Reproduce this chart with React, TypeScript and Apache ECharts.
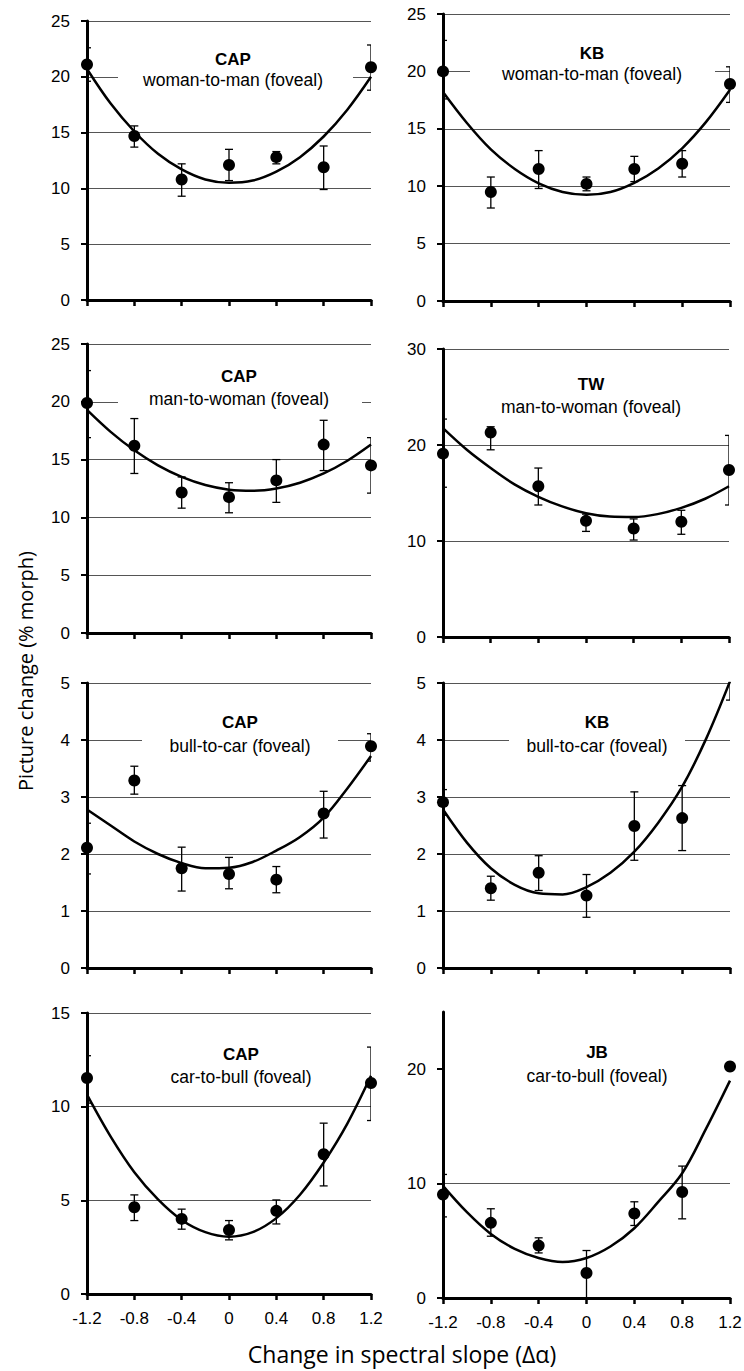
import React, { useEffect, useRef } from "react";
import * as echarts from "echarts";

// x positions of the measured points and of the fitted curve samples
const X_POINTS = [-1.2, -0.8, -0.4, 0, 0.4, 0.8, 1.2];
const FIT_X = [-1.2, -1.0, -0.8, -0.6, -0.4, -0.2, 0, 0.2, 0.4, 0.6, 0.8, 1.0, 1.2];

// CAP woman-to-man
const capW2mMean = [21.1, 14.7, 10.8, 12.1, 12.8, 11.9, 20.85];
const capW2mLow = [19.6, 13.7, 9.3, 10.7, 12.2, 9.9, 18.8];
const capW2mHigh = [22.6, 15.6, 12.2, 13.5, 13.3, 13.8, 22.85];
const capW2mFit = [20.7, 17.6, 15.1, 13.1, 11.7, 10.8, 10.5, 10.7, 11.5, 12.8, 14.65, 17.05, 20.0];

// KB woman-to-man
const kbW2mMean = [20.0, 9.5, 11.5, 10.2, 11.5, 11.95, 18.9];
const kbW2mLow = [17.6, 8.1, 9.8, 9.6, 10.4, 10.8, 17.3];
const kbW2mHigh = [22.7, 10.8, 13.1, 10.8, 12.6, 13.1, 20.4];
const kbW2mFit = [18.2, 15.5, 13.2, 11.5, 10.25, 9.5, 9.25, 9.5, 10.3, 11.55, 13.3, 15.6, 18.4];

// CAP man-to-woman
const capM2wMean = [19.9, 16.2, 12.15, 11.75, 13.2, 16.3, 14.5];
const capM2wLow = [16.9, 13.8, 10.8, 10.4, 11.3, 14.05, 12.1];
const capM2wHigh = [22.7, 18.55, 13.5, 13.0, 15.0, 18.4, 16.9];
const capM2wFit = [19.3, 17.4, 15.8, 14.5, 13.5, 12.8, 12.4, 12.3, 12.5, 13.0, 13.8, 14.9, 16.3];

// TW man-to-woman
const twM2wMean = [19.1, 21.3, 15.7, 12.1, 11.3, 12.0, 17.4];
const twM2wLow = [15.6, 19.5, 13.75, 11.0, 10.1, 10.7, 13.75];
const twM2wHigh = [22.7, 21.9, 17.6, 12.8, 12.3, 13.2, 21.0];
const twM2wFit = [21.75, 19.5, 17.6, 15.9, 14.6, 13.6, 12.9, 12.55, 12.5, 12.8, 13.45, 14.4, 15.7];

// CAP bull-to-car
const capB2cMean = [2.11, 3.29, 1.75, 1.65, 1.55, 2.71, 3.89];
const capB2cLow = [1.65, 3.05, 1.35, 1.39, 1.32, 2.28, 3.63];
const capB2cHigh = [2.54, 3.54, 2.12, 1.94, 1.78, 3.1, 4.11];
const capB2cFit = [2.78, 2.5, 2.22, 2.0, 1.84, 1.75, 1.76, 1.86, 2.06, 2.3, 2.64, 3.15, 3.72];

// KB bull-to-car
const kbB2cMean = [2.91, 1.4, 1.67, 1.27, 2.49, 2.63, 5.4];
const kbB2cLow = [2.68, 1.19, 1.36, 0.89, 1.89, 2.06, 4.7];
const kbB2cHigh = [3.13, 1.61, 1.97, 1.64, 3.09, 3.2, 6.1];
const kbB2cFit = [2.78, 2.2, 1.75, 1.46, 1.31, 1.29, 1.42, 1.67, 2.04, 2.55, 3.18, 4.02, 5.03];

// CAP car-to-bull
const capC2bMean = [11.53, 4.63, 4.01, 3.42, 4.44, 7.46, 11.26];
const capC2bLow = [10.19, 3.92, 3.46, 2.89, 3.74, 5.77, 9.26];
const capC2bHigh = [12.72, 5.29, 4.53, 3.92, 5.02, 9.12, 13.18];
const capC2bFit = [10.64, 8.4, 6.5, 5.05, 3.95, 3.3, 3.06, 3.3, 4.05, 5.3, 7.02, 9.1, 11.65];

// JB car-to-bull
const jbC2bMean = [9.05, 6.57, 4.58, 2.19, 7.39, 9.26, 20.23];
const jbC2bLow = [7.09, 5.4, 3.94, 0, 6.34, 6.92, 20.0];
const jbC2bHigh = [10.8, 7.8, 5.26, 4.15, 8.41, 11.53, 20.45];
const jbC2bFit = [9.8, 7.5, 5.6, 4.3, 3.5, 3.15, 3.5, 4.5, 6.1, 8.4, 10.9, 14.8, 19.0];

const SUBJECTS = ["CAP", "KB", "CAP", "TW", "CAP", "KB", "CAP", "JB"];
const CONDITIONS = [
  "woman-to-man (foveal)",
  "woman-to-man (foveal)",
  "man-to-woman (foveal)",
  "man-to-woman (foveal)",
  "bull-to-car (foveal)",
  "bull-to-car (foveal)",
  "car-to-bull (foveal)",
  "car-to-bull (foveal)",
];
const Y_MAX = [25, 25, 25, 30, 5, 5, 15, 25];
const Y_STEP = [5, 5, 5, 10, 1, 1, 5, 10];
const JB_Y_LABELS = [0, 10, 20];

const X_NAME = "Change in spectral slope (\u0394\u03b1)";
const Y_NAME = "Picture change (% morph)";

const MEANS = [capW2mMean, kbW2mMean, capM2wMean, twM2wMean, capB2cMean, kbB2cMean, capC2bMean, jbC2bMean];
const LOWS = [capW2mLow, kbW2mLow, capM2wLow, twM2wLow, capB2cLow, kbB2cLow, capC2bLow, jbC2bLow];
const HIGHS = [capW2mHigh, kbW2mHigh, capM2wHigh, twM2wHigh, capB2cHigh, kbB2cHigh, capC2bHigh, jbC2bHigh];
const FITS = [capW2mFit, kbW2mFit, capM2wFit, twM2wFit, capB2cFit, kbB2cFit, capC2bFit, jbC2bFit];

// layout (pixels)
const LAYOUT = [
  { left: 87, top: 21, width: 284, height: 279, tx: 233, ty: 59, sy: 80, gap: [118, 353] },
  { left: 443, top: 14, width: 287, height: 287, tx: 592, ty: 53, sy: 74, gap: [470, 715] },
  { left: 87, top: 344, width: 284, height: 289, tx: 239, ty: 376, sy: 399, gap: [118, 362] },
  { left: 443, top: 349, width: 286, height: 288, tx: 591, ty: 384, sy: 407, gap: [500, 690] },
  { left: 87, top: 683, width: 284, height: 285, tx: 240, ty: 722, sy: 746, gap: [142, 338] },
  { left: 443, top: 683, width: 287, height: 285, tx: 597, ty: 722, sy: 746, gap: [509, 685] },
  { left: 87, top: 1013, width: 284, height: 281, tx: 241, ty: 1054, sy: 1077, gap: [150, 330] },
  { left: 443, top: 1012, width: 287, height: 286, tx: 597, ty: 1052, sy: 1076, gap: [499, 695] },
];

const FONT = "'Liberation Sans', Arial, sans-serif";
const NAME_FONT = "'Open Sans', 'Noto Sans', sans-serif";

function buildOption() {
  const grid: any[] = [];
  const xAxis: any[] = [];
  const yAxis: any[] = [];
  const series: any[] = [];
  const graphic: any[] = [];

  LAYOUT.forEach((L, i) => {
    grid.push({
      left: L.left,
      top: L.top,
      width: L.width,
      height: L.height,
      containLabel: false,
      outerBoundsMode: "none",
    });
    const bottomRow = i >= 6;
    xAxis.push({
      type: "value",
      gridIndex: i,
      min: -1.2,
      max: 1.2,
      interval: 0.4,
      axisLine: { show: true, onZero: false, lineStyle: { color: "#000", width: 3 } },
      axisTick: { show: true, length: 6, lineStyle: { color: "#000", width: 2.5 } },
      axisLabel: {
        show: bottomRow,
        fontSize: 17,
        color: "#000",
        fontFamily: FONT,
        margin: 16,
        showMinLabel: true,
        showMaxLabel: true,
      },
      splitLine: { show: false },
    });
    const isJB = i === 7;
    yAxis.push({
      type: "value",
      gridIndex: i,
      min: 0,
      max: Y_MAX[i],
      interval: Y_STEP[i],
      axisLine: { show: true, onZero: false, lineStyle: { color: "#000", width: 3 } },
      axisTick: isJB
        ? { show: true, length: 6, lineStyle: { color: "#000", width: 2 }, customValues: JB_Y_LABELS }
        : { show: true, length: 6, lineStyle: { color: "#000", width: 2 } },
      axisLabel: isJB
        ? { fontSize: 17, color: "#000", fontFamily: FONT, margin: 17, customValues: JB_Y_LABELS }
        : { fontSize: 17, color: "#000", fontFamily: FONT, margin: 17 },
      splitLine: {
        show: true,
        showMinLine: false,
        showMaxLine: !isJB,
        lineStyle: { color: "#555", width: 1 },
      },
    });

    series.push({
      type: "line",
      xAxisIndex: i,
      yAxisIndex: i,
      data: FIT_X.map((x, k) => [x, FITS[i][k]]),
      smooth: 0.35,
      showSymbol: false,
      symbol: "none",
      lineStyle: { color: "#000", width: 2.5 },
      z: 3,
      silent: true,
    });
    series.push({
      type: "custom",
      xAxisIndex: i,
      yAxisIndex: i,
      clip: true,
      z: 4,
      silent: true,
      data: X_POINTS.map((x, k) => [x, LOWS[i][k], HIGHS[i][k]]),
      encode: { x: 0, y: [1, 2] },
      renderItem: (params: any, api: any) => {
        const x = api.value(0);
        const pLo = api.coord([x, api.value(1)]);
        const pHi = api.coord([x, api.value(2)]);
        const cap = 4;
        const st = { stroke: "#000", lineWidth: 1.3 };
        return {
          type: "group",
          children: [
            { type: "line", shape: { x1: pLo[0], y1: pLo[1], x2: pHi[0], y2: pHi[1] }, style: st },
            { type: "line", shape: { x1: pLo[0] - cap, y1: pLo[1], x2: pLo[0] + cap, y2: pLo[1] }, style: st },
            { type: "line", shape: { x1: pHi[0] - cap, y1: pHi[1], x2: pHi[0] + cap, y2: pHi[1] }, style: st },
          ],
        };
      },
    });
    series.push({
      type: "scatter",
      xAxisIndex: i,
      yAxisIndex: i,
      data: X_POINTS.map((x, k) => [x, MEANS[i][k]]),
      symbol: "circle",
      symbolSize: 12,
      itemStyle: { color: "#000", opacity: 1 },
      clip: true,
      z: 5,
      silent: true,
    });

    graphic.push({
      type: "rect",
      shape: { x: L.gap[0], y: L.ty - 10, width: L.gap[1] - L.gap[0], height: L.sy - L.ty + 21 },
      style: { fill: "#fff" },
      z: 20,
      silent: true,
    });
    graphic.push({
      type: "text",
      x: L.tx,
      y: L.ty,
      z: 21,
      style: {
        text: SUBJECTS[i],
        fontSize: 17,
        fontWeight: "bold",
        fontFamily: FONT,
        fill: "#000",
        align: "center",
        verticalAlign: "middle",
        textAlign: "center",
        textVerticalAlign: "middle",
      },
    });
    graphic.push({
      type: "text",
      x: L.tx,
      y: L.sy,
      z: 21,
      style: {
        text: CONDITIONS[i],
        fontSize: 17.5,
        fontFamily: FONT,
        fill: "#000",
        align: "center",
        verticalAlign: "middle",
        textAlign: "center",
        textVerticalAlign: "middle",
      },
    });
  });

  graphic.push({
    type: "text",
    x: 402,
    y: 1354,
    z: 21,
    style: {
      text: X_NAME,
      fontSize: 23,
      fontFamily: NAME_FONT,
      fill: "#000",
      align: "center",
      verticalAlign: "middle",
      textAlign: "center",
      textVerticalAlign: "middle",
    },
  });
  graphic.push({
    type: "text",
    x: 25,
    y: 671,
    rotation: Math.PI / 2,
    z: 21,
    style: {
      text: Y_NAME,
      fontSize: 20,
      fontFamily: NAME_FONT,
      fill: "#000",
      align: "center",
      verticalAlign: "middle",
      textAlign: "center",
      textVerticalAlign: "middle",
    },
  });

  return {
    animation: false,
    backgroundColor: "#fff",
    grid,
    xAxis,
    yAxis,
    series,
    graphic: { elements: graphic },
  };
}

export default function App() {
  const ref = useRef<HTMLDivElement>(null);
  useEffect(() => {
    if (!ref.current) return;
    const chart = echarts.init(ref.current, null, { renderer: "svg" });
    chart.setOption(buildOption() as any);
    return () => chart.dispose();
  }, []);
  return (
    <div
      ref={ref}
      style={{ position: "absolute", left: 0, top: 0, width: 744, height: 1371, background: "#fff" }}
    />
  );
}
